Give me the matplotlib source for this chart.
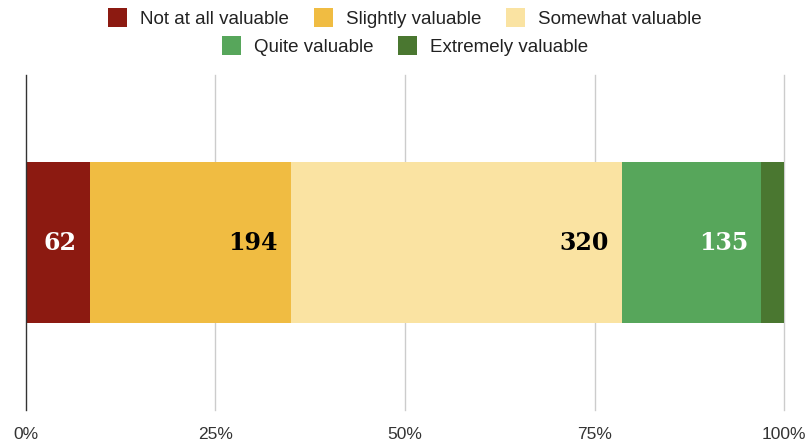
import matplotlib
matplotlib.use("Agg")
import matplotlib.pyplot as plt
from matplotlib.patches import Patch

categories = ["Not at all valuable", "Slightly valuable", "Somewhat valuable",
              "Quite valuable", "Extremely valuable"]
values = [62, 194, 320, 135, 22]
colors = ["#8C1A11", "#F0BC42", "#FAE3A2", "#57A65B", "#4A7730"]
label_colors = ["white", "black", "black", "white", None]
tick_vals = [0, 25, 50, 75, 100]
tick_labels = ["0%", "25%", "50%", "75%", "100%"]

total = sum(values)
shares = [v / total * 100 for v in values]

fig = plt.figure(figsize=(8.1, 4.42), dpi=100)
ax = fig.add_axes([0.032, 0.072, 0.936, 0.758])

left = 0
for v, s, c, lc in zip(values, shares, colors, label_colors):
    ax.barh(0, s, left=left, height=0.48, color=c, zorder=3)
    if lc is not None:
        ax.annotate(str(v), xy=(left + s, 0), xytext=(-9.5, 0), textcoords="offset points",
                    ha="right", va="center", color=lc, fontsize=17,
                    fontweight="bold", family="DejaVu Serif", zorder=4)
    left += s

ax.set_xlim(0, 100)
ax.set_ylim(-0.5, 0.5)
ax.set_xticks(tick_vals)
ax.set_xticklabels(tick_labels, fontsize=12.5, color="#333333", family="Liberation Sans")
ax.set_yticks([])
ax.tick_params(axis="x", length=0, pad=12)
for sp in ["top", "right", "bottom"]:
    ax.spines[sp].set_visible(False)
ax.spines["left"].set_color("#333333")
ax.spines["left"].set_linewidth(1.0)
ax.spines["left"].set_zorder(5)
for t in tick_vals[1:]:
    ax.axvline(t, color="#CCCCCC", linewidth=1.0, zorder=1, clip_on=False)

handles = [Patch(facecolor=c, edgecolor="none") for c in colors]
leg_kw = dict(frameon=False, handlelength=1.0, handleheight=1.15, handletextpad=0.7,
              columnspacing=1.33, prop={"family": "Liberation Sans", "size": 13.5},
              labelcolor="#222222", borderaxespad=0, borderpad=0)
fig.legend(handles[:3], categories[:3], ncol=3, loc="center", bbox_to_anchor=(0.5, 1 - 18 / 442), **leg_kw)
fig.legend(handles[3:], categories[3:], ncol=2, loc="center", bbox_to_anchor=(0.5, 1 - 46 / 442), **leg_kw)

fig.savefig("out.png", dpi=100)
